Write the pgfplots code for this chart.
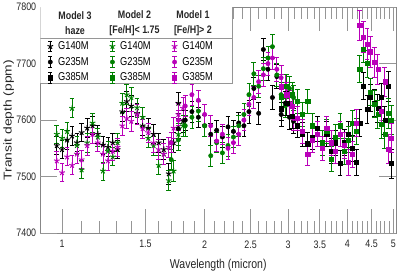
\documentclass[border=0pt]{standalone}
\usepackage{pgfplots}
\pgfplotsset{compat=1.18}
\usepackage{fontspec}
\setmainfont{Liberation Sans}[FakeStretch=0.82]
\newfontfamily\ylfont{Liberation Sans}[FakeStretch=1.22]
\definecolor{mgr}{RGB}{0,128,0}
\definecolor{mmg}{RGB}{185,0,185}
\definecolor{axg}{RGB}{150,150,150}
\pgfplotsset{
 ser/.style={only marks, mark size=2bp, mark options={solid, line width=0.5pt},
   error bars/y dir=both, error bars/y explicit,
   error bars/error bar style={line width=0.8pt},
   error bars/error mark options={rotate=90, mark size=2.4bp, line width=0.8pt}},
 st/.style={mark=star, mark size=3bp, mark options={solid, line width=1pt}},
 ci/.style={mark=*, mark size=2.2bp},
 sq/.style={mark=square*, mark size=2.1bp},
 legerr/.style={legend image code/.code={
   \draw[line width=0.8pt] (3bp,-5.5bp) -- (3bp,5.5bp) (0.8bp,-5.5bp) -- (5.2bp,-5.5bp) (0.8bp,5.5bp) -- (5.2bp,5.5bp);
   \draw[only marks] plot coordinates {(3bp,0bp)};
 }},
}
\begin{document}
\begin{tikzpicture}
\begin{axis}[
 scale only axis, width=359bp, height=228bp,
 xmode=log, xmin=0.9, xmax=5.07, ymin=7400, ymax=7800,
 xtick={1,1.5,2,2.5,3,3.5,4,4.5,5},
 xticklabels={1,1.5,2,2.5,3,3.5,4,4.5,5},
 minor xtick={1.1,1.2,1.3,1.4,1.6,1.7,1.8,1.9,2.1,2.2,2.3,2.4,2.6,2.7,2.8,2.9,3.1,3.2,3.3,3.4,3.6,3.7,3.8,3.9,4.1,4.2,4.3,4.4,4.6,4.7,4.8,4.9},
 major tick length=24bp, minor tick length=12bp,
 ytick=\empty,
 extra y ticks={7400,7500,7600,7700,7800},
 extra y tick labels={7400,7500,7600,7700,7800},
 extra y tick style={major tick length=17bp, yticklabel style={inner xsep=0pt, xshift=-4bp}},
 tick pos=both, xticklabel pos=lower, yticklabel pos=left,
 tick style={axg, line width=0.7pt},
 axis line style={axg!90!black, line width=0.7pt},
 tick label style={font=\fontsize{11}{12}\selectfont, text=black!85},
 xticklabel style={yshift=-4bp},
 xlabel={Wavelength (micron)},
 ylabel={Transit depth (ppm)},
 xlabel style={font=\fontsize{13}{14}\selectfont, text=black!85, yshift=-4bp},
 ylabel style={font=\ylfont\fontsize{11.5}{13}\selectfont, text=black!85, yshift=-1bp},
 legend columns=3,
 legend style={at={(axis description cs:0,1)}, anchor=north west, xshift=7bp, yshift=-33.5bp,
   draw=none, fill=none, inner sep=0pt, row sep=4bp,
   font=\fontsize{11.5}{12}\selectfont,
   nodes={inner xsep=0pt, inner ysep=0pt, text height=8.5bp, text depth=2bp, text width=42bp, align=left},
   /tikz/every odd column/.style={column sep=5bp},
   /tikz/every even column/.style={column sep=10bp}},
]
% ---------- G140M ----------
\addplot[ser, st, black, forget plot] table[x index=0, y index=1, y error index=2] {
0.975 7555 16
1.0 7548 16
1.025 7565 16
1.05 7572 17
1.075 7560 16
1.10 7578 16
1.13 7586 17
1.16 7590 16
1.19 7575 16
1.22 7556 16
1.25 7552 17
1.28 7560 16
1.31 7548 16
1.34 7615 17
1.37 7633 18
1.40 7625 18
1.44 7612 17
1.48 7590 17
1.52 7586 17
1.56 7575 17
1.60 7560 17
1.64 7548 18
1.68 7505 18
1.72 7560 18
1.76 7630 19
1.80 7598 19
};
\addplot[ser, st, mgr, forget plot] table[x index=0, y index=1, y error index=2] {
0.975 7575 16
1.0 7568 16
1.025 7580 16
1.05 7621 17
1.075 7555 16
1.10 7512 16
1.13 7560 17
1.16 7595 16
1.19 7570 16
1.22 7510 16
1.25 7545 17
1.28 7535 16
1.31 7560 16
1.34 7630 17
1.37 7645 18
1.40 7640 18
1.44 7622 17
1.48 7605 17
1.52 7568 17
1.56 7555 17
1.60 7520 17
1.64 7540 18
1.68 7493 18
1.72 7510 18
1.76 7575 19
1.80 7590 19
};
\addplot[ser, st, mmg, forget plot] table[x index=0, y index=1, y error index=2] {
0.975 7528 16
1.0 7507 16
1.025 7535 16
1.05 7520 17
1.075 7540 16
1.10 7530 16
1.13 7555 17
1.16 7575 16
1.19 7560 16
1.22 7540 16
1.25 7528 17
1.28 7545 16
1.31 7552 16
1.34 7590 17
1.37 7603 18
1.40 7598 18
1.44 7610 17
1.48 7585 17
1.52 7578 17
1.56 7560 17
1.60 7548 17
1.64 7540 18
1.68 7552 18
1.72 7586 18
1.76 7610 19
1.80 7621 19
};
% ---------- G235M ----------
\addplot[ser, ci, black, forget plot] table[x index=0, y index=1, y error index=2] {
1.70 7560 18
1.76 7585 18
1.82 7600 18
1.88 7615 19
1.94 7605 18
2.00 7590 18
2.06 7575 19
2.12 7582 18
2.18 7570 18
2.24 7588 19
2.30 7580 19
2.36 7595 19
2.42 7590 19
2.48 7615 20
2.54 7656 20
2.60 7612 20
2.66 7725 20
2.72 7690 20
2.78 7640 21
2.84 7677 21
2.90 7610 21
2.96 7630 21
3.02 7605 22
3.08 7598 22
};
\addplot[ser, ci, mgr, forget plot] table[x index=0, y index=1, y error index=2] {
1.70 7530 18
1.76 7565 18
1.82 7590 18
1.88 7605 19
1.94 7616 18
2.00 7590 18
2.06 7537 19
2.12 7560 18
2.18 7542 18
2.24 7555 19
2.30 7570 19
2.36 7590 19
2.42 7610 19
2.48 7645 20
2.54 7682 20
2.60 7660 20
2.66 7691 20
2.72 7710 20
2.78 7730 21
2.84 7680 21
2.90 7645 21
2.96 7625 21
3.02 7656 22
3.08 7640 22
};
\addplot[ser, ci, mmg, forget plot] table[x index=0, y index=1, y error index=2] {
1.70 7560 18
1.76 7600 18
1.82 7625 18
1.88 7645 19
1.94 7635 18
2.00 7610 18
2.06 7590 19
2.12 7563 18
2.18 7575 18
2.24 7550 19
2.30 7560 19
2.36 7575 19
2.42 7600 19
2.48 7628 20
2.54 7640 20
2.60 7668 20
2.66 7680 20
2.72 7700 20
2.78 7710 21
2.84 7690 21
2.90 7675 21
2.96 7660 21
3.02 7630 22
3.08 7603 22
};
% ---------- G385M ----------
\addplot[ser, sq, black, forget plot] table[x index=0, y index=1, y error index=2] {
2.90 7620 21
2.98 7630 21
3.06 7607 21
3.14 7590 21
3.22 7575 21
3.30 7558 21
3.38 7570 22
3.46 7585 22
3.54 7560 22
3.62 7575 22
3.70 7545 22
3.78 7560 22
3.86 7524 22
3.94 7560 23
4.02 7575 23
4.10 7550 23
4.18 7525 23
4.25 7595 24
4.32 7660 24
4.40 7619 24
4.48 7640 24
4.56 7630 24
4.64 7621 25
4.72 7640 25
4.80 7600 25
4.88 7660 26
4.96 7523 26
};
\addplot[ser, sq, mgr, forget plot] table[x index=0, y index=1, y error index=2] {
2.90 7640 21
2.98 7660 21
3.06 7645 21
3.14 7633 21
3.22 7610 21
3.30 7633 21
3.38 7590 22
3.46 7575 22
3.54 7560 22
3.62 7580 22
3.70 7531 22
3.78 7570 22
3.86 7590 22
3.94 7545 23
4.02 7565 23
4.10 7595 23
4.18 7580 23
4.25 7690 24
4.32 7726 24
4.40 7700 24
4.48 7650 24
4.56 7628 24
4.64 7610 25
4.72 7593 25
4.80 7575 25
4.88 7612 26
4.96 7600 26
};
\addplot[ser, sq, mmg, forget plot] table[x index=0, y index=1, y error index=2] {
2.90 7660 21
2.98 7645 21
3.06 7625 21
3.14 7603 21
3.22 7580 21
3.30 7540 21
3.38 7565 22
3.46 7575 22
3.54 7550 22
3.62 7585 22
3.70 7560 22
3.78 7545 22
3.86 7575 22
3.94 7555 23
4.02 7525 23
4.10 7540 23
4.18 7595 24
4.25 7768 27
4.32 7747 27
4.40 7735 27
4.48 7721 27
4.56 7702 26
4.64 7690 26
4.72 7616 26
4.80 7668 26
4.88 7549 26
4.96 7568 26
};
% ---------- legend box and headers ----------
\fill[white] (rel axis cs:0,1) rectangle ([xshift=194bp,yshift=-77bp]rel axis cs:0,1);
\draw[axg, line width=0.7pt] ([yshift=-77bp]rel axis cs:0,1) -| ([xshift=194bp]rel axis cs:0,1);
\draw[axg, line width=0.7pt] ([yshift=-32bp]rel axis cs:0,1) -- ([xshift=194bp,yshift=-32bp]rel axis cs:0,1);
\node[font=\bfseries\fontsize{11}{15}\selectfont, align=center, text=black!85] at ([xshift=35bp,yshift=-16.5bp]rel axis cs:0,1) {Model 3\\haze};
\node[font=\bfseries\fontsize{11}{15}\selectfont, align=center, text=black!85] at ([xshift=95bp,yshift=-16.5bp]rel axis cs:0,1) {Model 2\\{[Fe/H]}< 1.75};
\node[font=\bfseries\fontsize{11}{15}\selectfont, align=center, text=black!85] at ([xshift=154bp,yshift=-16.5bp]rel axis cs:0,1) {Model 1\\{[Fe/H]}> 2};
% ---------- legend entries ----------
\addlegendimage{black, st, legerr}\addlegendentry{G140M}
\addlegendimage{mgr, st, legerr}\addlegendentry{G140M}
\addlegendimage{mmg, st, legerr}\addlegendentry{G140M}
\addlegendimage{black, ci, legerr}\addlegendentry{G235M}
\addlegendimage{mgr, ci, legerr}\addlegendentry{G235M}
\addlegendimage{mmg, ci, legerr}\addlegendentry{G235M}
\addlegendimage{black, sq, legerr}\addlegendentry{G385M}
\addlegendimage{mgr, sq, legerr}\addlegendentry{G385M}
\addlegendimage{mmg, sq, legerr}\addlegendentry{G385M}
\end{axis}
\end{tikzpicture}
\end{document}
